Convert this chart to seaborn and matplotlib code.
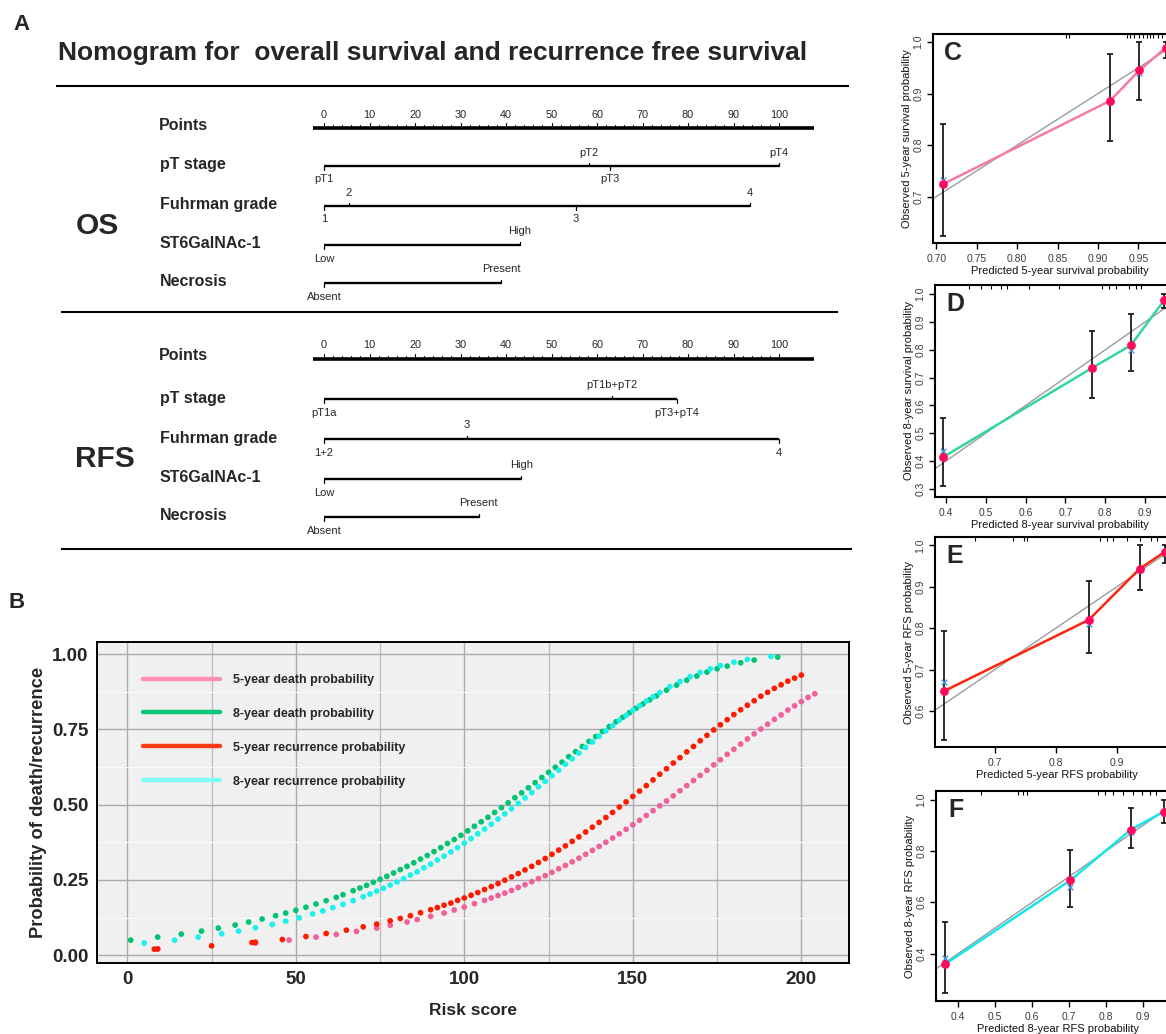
import matplotlib
matplotlib.use("Agg")
import matplotlib.pyplot as plt
from matplotlib.lines import Line2D
import numpy as np
import pandas as pd
import seaborn as sns

W, H = 1166, 1034
NARROW = ["Liberation Sans Narrow", "Liberation Sans", "DejaVu Sans"]
ARIAL = ["Liberation Sans", "DejaVu Sans"]

# ---------------- A: nomogram (points per level) ----------------
point_ticks = list(range(0, 101, 10))
nomo_vars = ["pT stage", "Fuhrman grade", "ST6GalNAc-1", "Necrosis"]
os_levels = [["pT1", "pT2", "pT3", "pT4"], ["1", "2", "3", "4"], ["Low", "High"], ["Absent", "Present"]]
os_points = [[0, 58.2, 62.8, 100], [0, 5.5, 55.4, 93.6], [0, 43], [0, 39]]
rfs_levels = [["pT1a", "pT1b+pT2", "pT3+pT4"], ["1+2", "3", "4"], ["Low", "High"], ["Absent", "Present"]]
rfs_points = [[0, 63.3, 77.6], [0, 31.4, 100], [0, 43.4], [0, 34]]

# ---------------- B: risk score vs probability ----------------
death5_risk = [9, 38, 48, 56, 62, 68, 74, 78, 83, 86, 90, 94, 97, 100, 103, 106, 108, 110, 112, 114,
               116, 118, 120, 122, 124, 126, 128, 130, 132, 134, 136, 138, 140, 142, 144, 146, 148, 150, 152, 154,
               156, 158, 160, 162, 164, 166, 168, 170, 172, 174, 176, 178, 180, 182, 184, 186, 188, 190, 192, 194,
               196, 198, 200, 202, 204]
death5_prob = [0.020, 0.040, 0.050, 0.060, 0.069, 0.079, 0.090, 0.099, 0.110, 0.118, 0.129, 0.140, 0.150, 0.160,
               0.171, 0.182, 0.190, 0.198, 0.206, 0.215, 0.225, 0.234, 0.244, 0.254, 0.264, 0.275, 0.287, 0.298,
               0.310, 0.322, 0.335, 0.348, 0.361, 0.375, 0.389, 0.403, 0.418, 0.433, 0.448, 0.464, 0.480, 0.496,
               0.512, 0.529, 0.546, 0.563, 0.580, 0.597, 0.614, 0.632, 0.649, 0.667, 0.684, 0.701, 0.718, 0.735,
               0.751, 0.767, 0.783, 0.798, 0.814, 0.828, 0.842, 0.856, 0.868]

death8_risk = [1, 9, 16, 22, 27, 32, 36, 40, 44, 47, 50, 53, 56, 59, 62, 64, 67, 69, 71, 73,
               75, 77, 79, 81, 83, 85, 87, 89, 91, 93, 95, 97, 99, 101, 103, 105, 107, 109, 111, 113,
               115, 117, 119, 121, 123, 125, 127, 129, 131, 133, 135, 137, 139, 141, 143, 145, 147, 149, 151, 153,
               155, 157, 160, 163, 166, 169, 172, 175, 178, 182, 186, 193]
death8_prob = [0.050, 0.060, 0.070, 0.080, 0.090, 0.100, 0.110, 0.120, 0.131, 0.140, 0.149, 0.159, 0.170, 0.181,
               0.192, 0.201, 0.214, 0.223, 0.232, 0.242, 0.252, 0.262, 0.273, 0.284, 0.295, 0.307, 0.319, 0.331,
               0.344, 0.357, 0.371, 0.384, 0.398, 0.413, 0.428, 0.443, 0.458, 0.474, 0.490, 0.506, 0.523, 0.539,
               0.556, 0.573, 0.590, 0.607, 0.624, 0.641, 0.659, 0.676, 0.693, 0.710, 0.726, 0.743, 0.759, 0.775,
               0.790, 0.805, 0.820, 0.834, 0.848, 0.861, 0.880, 0.897, 0.913, 0.927, 0.940, 0.951, 0.960, 0.971,
               0.980, 0.990]

recur5_risk = [8, 9, 25, 37, 38, 46, 53, 59, 65, 70, 74, 78, 81, 84, 87, 90, 92, 94, 96, 98,
               100, 102, 104, 106, 108, 110, 112, 114, 116, 118, 120, 122, 124, 126, 128, 130, 132, 134, 136, 138,
               140, 142, 144, 146, 148, 150, 152, 154, 156, 158, 160, 162, 164, 166, 168, 170, 172, 174, 176, 178,
               180, 182, 184, 186, 188, 190, 192, 194, 196, 198, 200]
recur5_prob = [0.020, 0.021, 0.031, 0.042, 0.043, 0.052, 0.062, 0.072, 0.083, 0.094, 0.103, 0.114, 0.122, 0.131,
               0.141, 0.151, 0.158, 0.166, 0.173, 0.182, 0.190, 0.199, 0.208, 0.218, 0.228, 0.238, 0.249, 0.260,
               0.271, 0.283, 0.295, 0.308, 0.321, 0.335, 0.349, 0.363, 0.378, 0.393, 0.409, 0.425, 0.441, 0.457,
               0.474, 0.492, 0.509, 0.527, 0.545, 0.563, 0.582, 0.601, 0.619, 0.638, 0.656, 0.675, 0.693, 0.712,
               0.730, 0.748, 0.765, 0.782, 0.799, 0.815, 0.830, 0.845, 0.860, 0.873, 0.886, 0.898, 0.910, 0.920,
               0.930]

recur8_risk = [5, 14, 21, 28, 33, 38, 43, 47, 51, 55, 58, 61, 64, 67, 70, 72, 74, 76, 78, 80,
               82, 84, 86, 88, 90, 92, 94, 96, 98, 100, 102, 104, 106, 108, 110, 112, 114, 116, 118, 120,
               122, 124, 126, 128, 130, 132, 134, 136, 138, 140, 142, 144, 146, 148, 150, 152, 154, 156, 158, 161,
               164, 167, 170, 173, 176, 180, 184, 191]
recur8_prob = [0.040, 0.050, 0.060, 0.071, 0.080, 0.091, 0.102, 0.113, 0.124, 0.137, 0.147, 0.158, 0.169, 0.181,
               0.194, 0.203, 0.213, 0.222, 0.233, 0.243, 0.254, 0.266, 0.277, 0.290, 0.302, 0.316, 0.329, 0.343,
               0.357, 0.372, 0.387, 0.403, 0.419, 0.435, 0.452, 0.469, 0.486, 0.504, 0.522, 0.540, 0.559, 0.577,
               0.596, 0.614, 0.634, 0.652, 0.671, 0.690, 0.708, 0.727, 0.745, 0.762, 0.780, 0.796, 0.813, 0.828,
               0.844, 0.858, 0.872, 0.892, 0.909, 0.925, 0.939, 0.951, 0.962, 0.973, 0.982, 0.992]

curve_names = ["5-year death probability", "8-year death probability",
               "5-year recurrence probability", "8-year recurrence probability"]
dot_colors = ["#f2609a", "#00c472", "#ff1a00", "#19f2ee"]
key_colors = ["#ff8fb4", "#00c77a", "#ff3a16", "#7ffff4"]

# ---------------- C-F: calibration ----------------
c_pred = [0.708, 0.915, 0.951, 0.984]
c_obs = [0.724, 0.886, 0.945, 0.989]
c_lo = [0.624, 0.808, 0.887, 0.968]
c_hi = [0.841, 0.976, 1.000, 1.000]
c_corr = [0.733, 0.884, 0.939, 0.988]
c_rug = [0.860, 0.864, 0.936, 0.940, 0.944, 0.951, 0.956, 0.960, 0.964, 0.968, 0.974, 0.979]

d_pred = [0.393, 0.767, 0.864, 0.948]
d_obs = [0.414, 0.735, 0.816, 0.979]
d_lo = [0.310, 0.626, 0.724, 0.949]
d_hi = [0.554, 0.866, 0.929, 1.000]
d_corr = [0.438, 0.733, 0.800, 0.975]
d_rug = [0.458, 0.489, 0.514, 0.539, 0.553, 0.610, 0.685, 0.793, 0.810, 0.827, 0.860, 0.878, 0.889]

e_pred = [0.617, 0.854, 0.937, 0.978]
e_obs = [0.648, 0.820, 0.943, 0.984]
e_lo = [0.531, 0.739, 0.892, 0.957]
e_hi = [0.793, 0.914, 1.000, 1.000]
e_corr = [0.670, 0.810, 0.940, 0.980]
e_rug = [0.667, 0.730, 0.747, 0.752, 0.873, 0.884, 0.894, 0.916, 0.938, 0.955, 0.966]

f_pred = [0.364, 0.703, 0.867, 0.957]
f_obs = [0.358, 0.685, 0.883, 0.954]
f_lo = [0.247, 0.583, 0.812, 0.910]
f_hi = [0.523, 0.804, 0.966, 1.000]
f_corr = [0.384, 0.661, 0.875, 0.950]
f_rug = [0.463, 0.562, 0.576, 0.585, 0.779, 0.797, 0.819, 0.846, 0.873, 0.896, 0.918, 0.936]

sns.set_theme(style="white")
plt.rcParams["font.family"] = ARIAL

fig = plt.figure(figsize=(W / 100, H / 100), dpi=100)
fig.patch.set_facecolor("white")


def px_axes(left, top, right, bottom):
    return fig.add_axes([left / W, 1 - bottom / H, (right - left) / W, (bottom - top) / H])


def fig_text(x, y, s, **kw):
    fig.text(x / W, 1 - y / H, s, **kw)


# ======================= A =======================
P0, P100 = 324.0, 779.0
scale = (P100 - P0) / 100.0
axA = px_axes(0, 0, 860, 560)
axA.set_xlim(-P0 / scale, (860 - P0) / scale)
axA.set_ylim(560, 0)
axA.axis("off")


def tx(px):
    return (px - P0) / scale


fig_text(22, 25, "A", fontsize=16, fontweight="bold", family=NARROW, ha="center", va="center")
axA.text(tx(58), 53, "Nomogram for  overall survival and recurrence free survival",
         fontsize=19, fontweight="bold", family=NARROW, ha="left", va="center")
for y, x0, x1 in [(86, 56, 849), (312, 61, 838), (549, 61, 852)]:
    axA.plot([tx(x0), tx(x1)], [y, y], color="black", lw=1.5, solid_capstyle="butt")


def draw_nomogram(rows_y, group, group_x, levels, points):
    y0 = rows_y[0]
    axA.plot([-2.5, 107.7], [y0, y0], color="black", lw=2.6, solid_capstyle="butt")
    for v in range(0, 101, 2):
        ln = 5 if v % 10 == 0 else 2.8
        axA.plot([v, v], [y0, y0 - ln], color="black", lw=0.8)
    for v in point_ticks:
        axA.text(v, y0 - 13.5, str(v), ha="center", va="center", fontsize=7.8, family=NARROW)
    axA.text(tx(159), y0 - 3, "Points", ha="left", va="center", fontsize=11.5,
             fontweight="bold", family=NARROW)
    for name, levs, pts, y in zip(nomo_vars, levels, points, rows_y[1:]):
        axA.plot([min(pts), max(pts)], [y, y], color="black", lw=1.7, solid_capstyle="butt")
        for i, (lab, p) in enumerate(zip(levs, pts)):
            sgn = 1 if i % 2 == 0 else -1
            axA.plot([p, p], [y, y + 3.5 * sgn], color="black", lw=0.9)
            axA.text(p, y + 13.5 * sgn, lab, ha="center", va="center", fontsize=8, family=NARROW)
        axA.text(tx(160), y - 1, name, ha="left", va="center", fontsize=11.5,
                 fontweight="bold", family=NARROW)
    axA.text(tx(group_x), (rows_y[2] + rows_y[3]) / 2, group, ha="center", va="center",
             fontsize=21.5, fontweight="bold", family=NARROW)


draw_nomogram([128, 166, 206, 245, 283], "OS", 97, os_levels, os_points)
draw_nomogram([359, 399, 439, 479, 517], "RFS", 105, rfs_levels, rfs_points)

# ======================= B =======================
fig_text(17, 603, "B", fontsize=16, fontweight="bold", family=NARROW, ha="center", va="center")
axB = px_axes(96.5, 642, 849, 963)
frames = []
for name, xs, ys in zip(curve_names, [death5_risk, death8_risk, recur5_risk, recur8_risk],
                        [death5_prob, death8_prob, recur5_prob, recur8_prob]):
    frames.append(pd.DataFrame({"risk": xs, "prob": ys, "curve": name}))
dfB = pd.concat(frames, ignore_index=True)

axB.set_facecolor("#f0f0f0")
axB.set_xlim(-9.15, 214.15)
axB.set_ylim(-0.026, 1.040)
axB.set_xticks([0, 50, 100, 150, 200])
axB.set_xticks([25, 75, 125, 175], minor=True)
axB.set_yticks([0, 0.25, 0.5, 0.75, 1.0])
axB.set_yticks([0.125, 0.375, 0.625, 0.875], minor=True)
axB.grid(True, which="major", color="#ababab", lw=1.0)
axB.grid(True, which="minor", axis="x", color="#bdbdbd", lw=1.0)
axB.grid(True, which="minor", axis="y", color="#fafafa", lw=0.8)
axB.set_axisbelow(True)

sns.scatterplot(data=dfB, x="risk", y="prob", hue="curve", hue_order=curve_names,
                palette=dict(zip(curve_names, dot_colors)), s=17, linewidth=0,
                legend=False, ax=axB)

handles = [Line2D([0], [0], color=c, lw=3.2) for c in key_colors]
axB.legend(handles, curve_names, loc="upper left", bbox_to_anchor=(0.0534, 0.92), frameon=False,
           borderpad=0, prop={"family": NARROW, "size": 9, "weight": "bold"},
           handlelength=6.2, handletextpad=1.0, labelspacing=1.75)

axB.set_yticklabels(["0.00", "0.25", "0.50", "0.75", "1.00"])
axB.tick_params(axis="both", which="major", length=4, width=1, color="#333333", pad=2,
                labelsize=13.5)
axB.tick_params(axis="both", which="minor", length=0)
for lab in axB.get_xticklabels() + axB.get_yticklabels():
    lab.set_family(NARROW)
    lab.set_fontweight("bold")
for sp in axB.spines.values():
    sp.set_visible(True)
    sp.set_color("black")
    sp.set_linewidth(1.4)
axB.set_xlabel("Risk score", fontsize=12.5, fontweight="bold", family=NARROW)
axB.set_ylabel("Probability of death/recurrence", fontsize=13.2, fontweight="bold")
axB.xaxis.set_label_coords(0.5, -0.125)
axB.yaxis.set_label_coords(-0.066, 0.5)

# ======================= C-F =======================
panels = [
    ("C", (933, 34, 1187, 243), (0.696, 1.010), (0.610, 1.0155),
     [0.70, 0.75, 0.80, 0.85, 0.90, 0.95], "{:.2f}", [0.7, 0.8, 0.9, 1.0],
     c_pred, c_obs, c_lo, c_hi, c_corr, c_rug, "#f47aa6",
     "Predicted 5-year survival probability", "Observed 5-year survival probability"),
    ("D", (935, 285, 1185, 497), (0.373, 1.0), (0.271, 1.033),
     [0.4, 0.5, 0.6, 0.7, 0.8, 0.9], "{:.1f}", [0.3, 0.4, 0.5, 0.6, 0.7, 0.8, 0.9, 1.0],
     d_pred, d_obs, d_lo, d_hi, d_corr, d_rug, "#33d6a0",
     "Predicted 8-year survival probability", "Observed 8-year survival probability"),
    ("E", (935, 537, 1178, 747), (0.602, 1.0), (0.513, 1.020),
     [0.7, 0.8, 0.9], "{:.1f}", [0.6, 0.7, 0.8, 0.9, 1.0],
     e_pred, e_obs, e_lo, e_hi, e_corr, e_rug, "#ff2412",
     "Predicted 5-year RFS probability", "Observed 5-year RFS probability"),
    ("F", (936, 791, 1180, 1001), (0.340, 1.0), (0.215, 1.034),
     [0.4, 0.5, 0.6, 0.7, 0.8, 0.9], "{:.1f}", [0.4, 0.6, 0.8, 1.0],
     f_pred, f_obs, f_lo, f_hi, f_corr, f_rug, "#14e6ea",
     "Predicted 8-year RFS probability", "Observed 8-year RFS probability"),
]

for (letter, box, xlim, ylim, xt, xfmt, yt, pred, obs, lo, hi, corr, rug, col,
     xlabel, ylabel) in panels:
    left, top, right, bottom = box
    ax = px_axes(left, top, right, bottom)
    ax.set_facecolor("white")
    ax.set_xlim(*xlim)
    ax.set_ylim(*ylim)
    ax.axline((0, 0), (1, 1), color="#9c9c9c", lw=1.0, zorder=1)
    sns.lineplot(x=pred, y=obs, color=col, lw=1.8, sort=False, ax=ax, zorder=2)
    pobs = np.array(obs)
    ax.errorbar(pred, obs, yerr=[pobs - np.array(lo), np.array(hi) - pobs], fmt="none",
                ecolor="#1c1c1c", elinewidth=1.3, capsize=2.2, capthick=1.3, zorder=3)
    sns.scatterplot(x=pred, y=corr, marker="x", color="#4a8fe0", s=16, linewidth=1.0,
                    ax=ax, zorder=3)
    sns.scatterplot(x=pred, y=obs, color="#ff0a5c", s=40, linewidth=0, ax=ax, zorder=4)
    ax.vlines(rug, 0.982, 1.0, transform=ax.get_xaxis_transform(), color="black", lw=0.8)

    ax.set_xticks(xt)
    ax.set_xticklabels([xfmt.format(v) for v in xt])
    ax.set_yticks(yt)
    ax.set_yticklabels(["{:.1f}".format(v) for v in yt], rotation=90, va="center")
    ax.tick_params(axis="both", length=4, width=1, color="black", labelsize=7.5,
                   labelcolor="#3c3c3c", direction="out", bottom=True, left=True)
    ax.tick_params(axis="x", pad=4)
    ax.tick_params(axis="y", pad=3)
    for sp in ax.spines.values():
        sp.set_visible(True)
        sp.set_color("black")
        sp.set_linewidth(1.5)
    wpx, hpx = right - left, bottom - top
    ax.set_xlabel(xlabel, fontsize=8, color="#111111")
    ax.set_ylabel(ylabel, fontsize=8, color="#111111")
    ax.xaxis.set_label_coords(0.5, -(23.0 / hpx))
    ax.yaxis.set_label_coords(-(21.0 / wpx), 0.5)
    fig_text(left + 20, top + 19, letter, fontsize=18, fontweight="bold",
             ha="center", va="center")

fig.savefig("out.png", dpi=100)
